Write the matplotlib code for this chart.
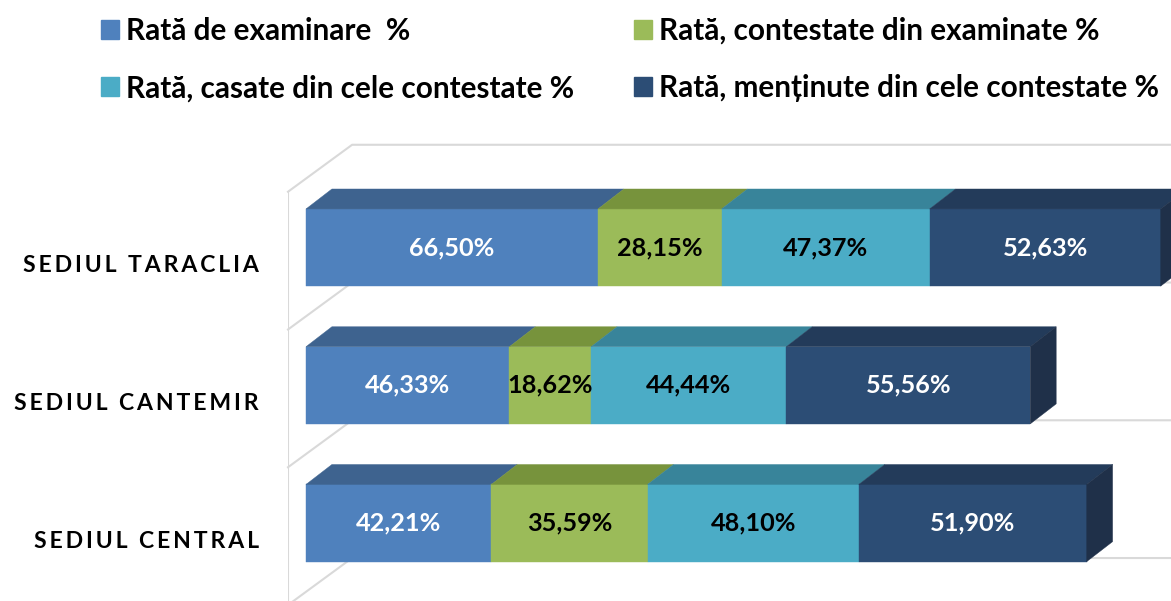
import matplotlib
matplotlib.use("Agg")
import matplotlib.pyplot as plt
from matplotlib.patches import Polygon, Patch
from matplotlib.transforms import ScaledTranslation

plt.rcParams['font.family'] = ['Lato', 'DejaVu Sans']

# data (bottom to top)
categories = ['SEDIUL CENTRAL', 'SEDIUL CANTEMIR', 'SEDIUL TARACLIA']
series_names = ['Rată de examinare  %', 'Rată, contestate din examinate %',
                'Rată, casate din cele contestate %', 'Rată, menținute din cele contestate %']
rata_examinare = [42.21, 46.33, 66.50]
rata_contestate = [35.59, 18.62, 28.15]
rata_casate = [48.10, 44.44, 47.37]
rata_mentinute = [51.90, 55.56, 52.63]
series = [rata_examinare, rata_contestate, rata_casate, rata_mentinute]

# colours: front, top, side
front_cols = ['#4F81BD', '#9BBB59', '#4BACC6', '#2C4D75']
top_cols = ['#3E638F', '#77933C', '#38849A', '#233B5A']
side_col = '#1F3049'
label_cols = ['white', 'black', 'black', 'white']

# 3d look (data units)
bar_h = 0.56
dx, dy = 5.9, 0.145
wall_x = -4.1
wall_dx, wall_dy = 14.6, 0.341
grid_off = -0.595
grid_col = '#D9D9D9'

fig = plt.figure(figsize=(11.71, 6.01), dpi=100)
ax = fig.add_axes([288 / 1171, 0, 1 - 288 / 1171, 1])
ax.set_xlim(wall_x, 197.0)
ax.set_ylim(-0.566, 3.797)

# walls / gridlines
ypos = list(range(len(categories)))
for k in range(len(categories) + 1):
    yf = k + grid_off
    ax.plot([wall_x, wall_x + wall_dx, 200], [yf, yf + wall_dy, yf + wall_dy],
            color=grid_col, lw=1.5, zorder=0, clip_on=False)
top_y = len(categories) + grid_off
ax.plot([wall_x, wall_x], [-1, top_y], color=grid_col, lw=1.5, zorder=0)

# bars
for i, y in enumerate(ypos):
    left = 0
    for j, vals in enumerate(series):
        w = vals[i]
        ax.barh(y, w, left=left, height=bar_h, color=front_cols[j],
                edgecolor=front_cols[j], lw=0.3, zorder=2)
        yt = y + bar_h / 2
        ax.add_patch(Polygon([(left, yt), (left + w, yt), (left + w + dx, yt + dy), (left + dx, yt + dy)],
                             closed=True, facecolor=top_cols[j], edgecolor=top_cols[j], lw=0.3, zorder=2))
        ax.text(left + w / 2, y, f"{w:.2f}".replace('.', ',') + '%', ha='center', va='center',
                fontsize=18.2, fontweight='bold', color=label_cols[j], zorder=3)
        left += w
    yb = y - bar_h / 2
    yt = y + bar_h / 2
    ax.add_patch(Polygon([(left, yb), (left, yt), (left + dx, yt + dy), (left + dx, yb + dy)],
                         closed=True, facecolor=side_col, edgecolor=side_col, lw=0.3, zorder=2))

# category labels
ax.set_yticks(ypos)
ax.set_yticklabels(['\u2009'.join(c) for c in categories], fontsize=16.6, fontweight='bold')
ax.tick_params(axis='y', length=0, pad=21)
for lab in ax.get_yticklabels():
    lab.set_transform(lab.get_transform() + ScaledTranslation(0, -16 / 100, fig.dpi_scale_trans))
ax.set_xticks([])
for s in ax.spines.values():
    s.set_visible(False)

# legend
handles = [Patch(facecolor=c, edgecolor=c) for c in front_cols]
order = [0, 2, 1, 3]
fig.legend([handles[o] for o in order], [series_names[o] for o in order], ncol=2,
           loc='upper left', bbox_to_anchor=(101 / 1171, 1 - 17 / 601), frameon=False,
           prop={'size': 21.4, 'weight': 'bold'}, handlelength=0.6, handleheight=0.6,
           handletextpad=0.23, columnspacing=2.02, labelspacing=0.98,
           borderpad=0, borderaxespad=0)

fig.savefig('out.png', dpi=100)
